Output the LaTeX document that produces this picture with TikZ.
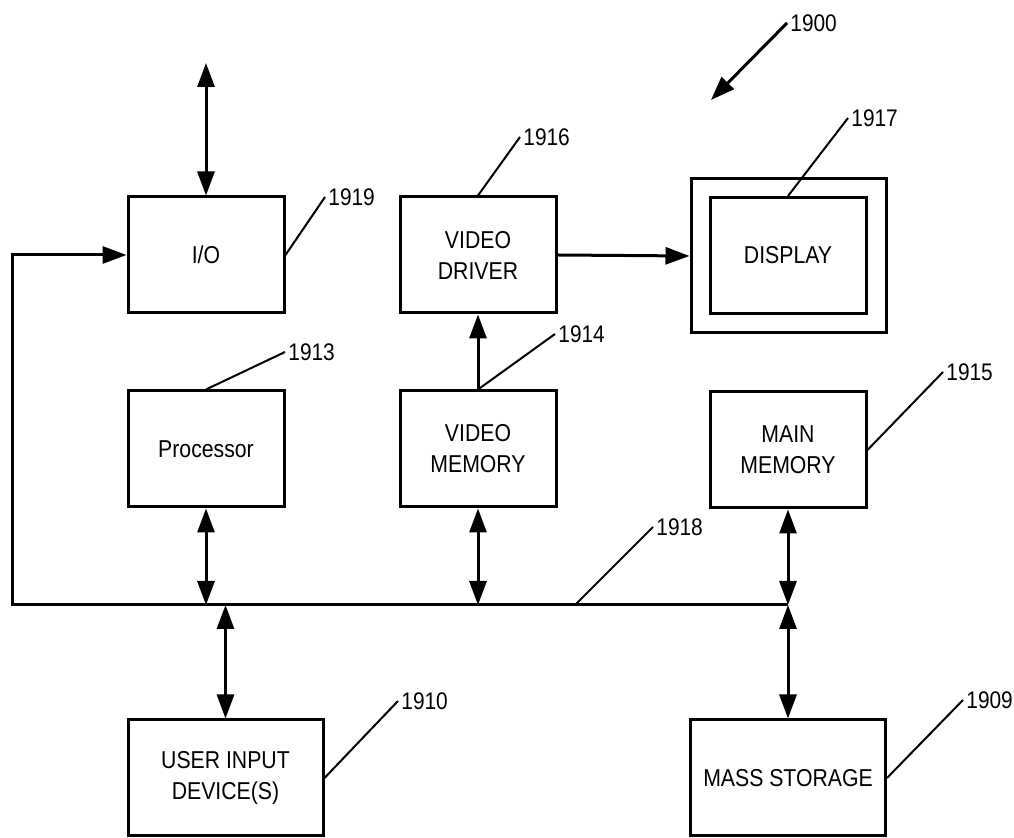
\documentclass[tikz,border=0pt]{standalone}
\usepackage{fontspec}
\setmainfont{Liberation Sans}[FakeStretch=0.87]
\usetikzlibrary{arrows.meta}

\begin{document}
\begin{tikzpicture}[
                x=0.5pt, y=-0.5pt,
                block/.style={draw, line width=1.5pt, rectangle, inner sep=0pt, minimum width=78pt, minimum height=58pt, align=center, font=\fontsize{12.2}{15.5}\selectfont},
                wide/.style={block, minimum width=97.5pt},
                wire/.style={draw, line width=1.5pt},
                arr/.style={wire, -{Triangle[length=12pt, width=8.5pt]}},
                dbl/.style={wire, {Triangle[length=12pt, width=8.5pt]}-{Triangle[length=12pt, width=8.5pt]}},
                refnum/.style={font=\fontsize{12}{14}\selectfont, anchor=west, inner sep=1.5pt},
                leader/.style={draw, line width=1pt}
            ]
                \useasboundingbox (0,0) rectangle (1014,838);

                % --- BOXES ---
                \node[block] (io) at (206,255) {I/O};
                \node[block] (vdrv) at (478,255) {VIDEO\\DRIVER};
                \node[block, minimum width=97.5pt, minimum height=77pt] (dispout) at (788.5,256) {};
                \node[block] (disp) at (788,255.5) {DISPLAY};
                \node[block] (proc) at (206,449) {Processor};
                \node[block] (vmem) at (478,449) {VIDEO\\MEMORY};
                \node[block] (mmem) at (788,450) {MAIN\\MEMORY};
                \node[wide] (user) at (225.5,778) {USER INPUT\\DEVICE(S)};
                \node[wide] (mass) at (788,778) {MASS STORAGE};

                % --- BUS ---
                \coordinate (busL) at (12,605);
                \coordinate (busR) at (788,605);
                \coordinate (ext) at (206,63);
                \draw[arr] (busR) -- (busL) |- (io.west);
                \draw[dbl] (ext) -- (io.north);
                \draw[dbl] (proc.south) -- (proc.south |- busL);
                \draw[dbl] (vmem.south) -- (vmem.south |- busL);
                \draw[dbl] (mmem.south) -- (mmem.south |- busL);
                \draw[dbl] (user.north) -- (user.north |- busL);
                \draw[dbl] (mass.north) -- (mass.north |- busL);
                \draw[arr] (vmem.north) -- (vdrv.south);
                \draw[arr] (vdrv.east) -- (dispout.west);

                % --- REFERENCE NUMBERS ---
                \node[refnum] (n1900) at (787,23) {1900};
                \node[refnum] (n1916) at (520,137) {1916};
                \node[refnum] (n1917) at (848,118) {1917};
                \node[refnum] (n1919) at (325,197) {1919};
                \node[refnum] (n1913) at (285,352) {1913};
                \node[refnum] (n1914) at (555,334) {1914};
                \node[refnum] (n1915) at (943,372) {1915};
                \node[refnum] (n1918) at (653,527) {1918};
                \node[refnum] (n1910) at (398,701) {1910};
                \node[refnum] (n1909) at (963,700) {1909};

                \coordinate (p1900) at (711,100);
                \coordinate (b1918) at (575,605);
                \draw[arr] (n1900.west) -- (p1900);
                \draw[leader] (vdrv.north) -- (n1916.west);
                \draw[leader] (disp.north) -- (n1917.west);
                \draw[leader] (io.east) -- (n1919.west);
                \draw[leader] (proc.north) -- (n1913.west);
                \draw[leader] (vmem.north) -- (n1914.west);
                \draw[leader] (mmem.east) -- (n1915.west);
                \draw[leader] (b1918) -- (n1918.west);
                \draw[leader] (user.east) -- (n1910.west);
                \draw[leader] (mass.east) -- (n1909.west);

            \end{tikzpicture}
\end{document}
